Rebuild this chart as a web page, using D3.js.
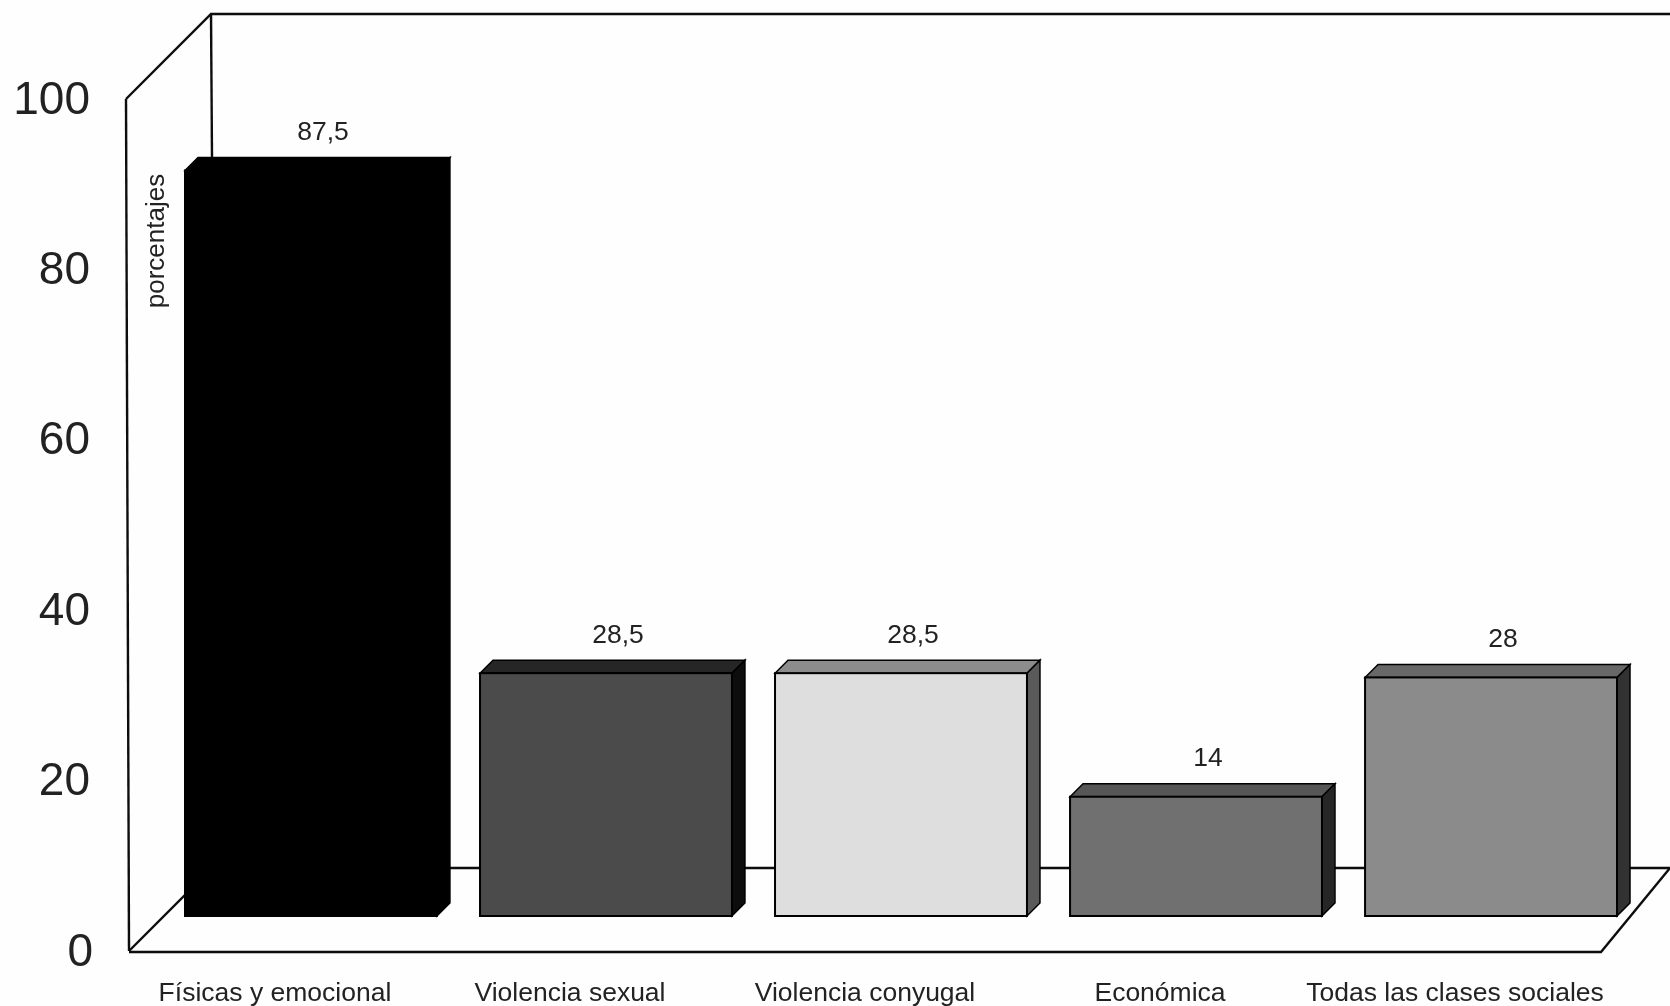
<!DOCTYPE html>
<html><head><meta charset="utf-8">
<script src="https://cdn.jsdelivr.net/npm/d3@7"></script>
<style>html,body{margin:0;padding:0;background:#fefefe;overflow:hidden}text{font-family:"Liberation Sans",Arial,sans-serif;fill:#222}</style>
</head><body><svg id="c" width="1670" height="1006"></svg>
<script>
const categories=["Físicas y emocional","Violencia sexual","Violencia conyugal","Económica","Todas las clases sociales"];
const values=[87.5,28.5,28.5,14,28];
const valueLabels=["87,5","28,5","28,5","14","28"];
const yTicks=[0,20,40,60,80,100];
const axisTitle="porcentajes";
const frontFill=["#000000","#4b4b4b","#dedede","#6f6f6f","#8b8b8b"];
const topFill=["#000000","#262626","#8c8c8c","#565656","#686868"];
const sideFill=["#000000","#111111","#5a5a5a","#262626","#333333"];

const svg=d3.select("#c");
const defs=svg.append("defs");
defs.append("filter").attr("id","soft").append("feGaussianBlur").attr("stdDeviation",0.55);
const g=svg.append("g").attr("filter","url(#soft)");

const y=d3.scaleLinear().domain([0,100]).range([951,99]);
const depth=13, baseLift=y(0)-916;
const x=d3.scaleBand().domain(categories).range([185,1617]).paddingInner(0.146).paddingOuter(0);
const xLabel=d3.scaleBand().domain(categories).range([149,1581]).paddingInner(0.146).paddingOuter(0);

const line=d3.line();
const frame=[
 [[126,y(100)],[211,14],[1670,14]],
 [[126,y(100)],[129,y(0)]],
 [[211,14],[212,158]],
 [[129,y(0)+1],[1601,y(0)+1],[1670,868]],
 [[129,y(0)],[212,868],[1670,868]]
];
g.selectAll("path.frame").data(frame).join("path").attr("class","frame")
 .attr("d",d=>line(d)).attr("fill","none").attr("stroke","#111").attr("stroke-width",2.4);

g.selectAll("text.tick").data(yTicks).join("text").attr("class","tick")
 .attr("x",d=>d===0?93:90).attr("y",d=>y(d)-2).attr("dy","0.36em").attr("text-anchor","end")
 .attr("font-size",46).text(d=>d);

const bars=g.selectAll("g.bar").data(values).join("g").attr("class","bar");
const bx=(i)=>x(categories[i]), bw=x.bandwidth();
const by=v=>y(v)-baseLift;
bars.append("path").attr("d",(v,i)=>line([[bx(i),by(v)],[bx(i)+depth,by(v)-depth],[bx(i)+bw+depth,by(v)-depth],[bx(i)+bw,by(v)]])+"Z")
 .attr("fill",(v,i)=>topFill[i]).attr("stroke","#000").attr("stroke-width",1.5);
bars.append("path").attr("d",(v,i)=>line([[bx(i)+bw,by(v)],[bx(i)+bw+depth,by(v)-depth],[bx(i)+bw+depth,by(0)-depth],[bx(i)+bw,by(0)]])+"Z")
 .attr("fill",(v,i)=>sideFill[i]).attr("stroke","#000").attr("stroke-width",1.5);
bars.append("rect").attr("x",(v,i)=>bx(i)).attr("y",v=>by(v)).attr("width",bw).attr("height",v=>by(0)-by(v))
 .attr("fill",(v,i)=>frontFill[i]).attr("stroke","#000").attr("stroke-width",2);

g.selectAll("text.val").data(values).join("text").attr("class","val")
 .attr("x",(v,i)=>bx(i)+bw/2+12).attr("y",v=>by(v)-40).attr("dy","0.36em").attr("text-anchor","middle")
 .attr("font-size",26.5).text((v,i)=>valueLabels[i]);

g.selectAll("text.cat").data(categories).join("text").attr("class","cat")
 .attr("x",d=>xLabel(d)+xLabel.bandwidth()/2).attr("y",991).attr("dy","0.36em").attr("text-anchor","middle")
 .attr("font-size",26.5).text(d=>d);

g.append("text").attr("transform","translate(155,241) rotate(-90)").attr("dy","0.36em").attr("text-anchor","middle")
 .attr("font-size",26).text(axisTitle);
</script></body></html>
